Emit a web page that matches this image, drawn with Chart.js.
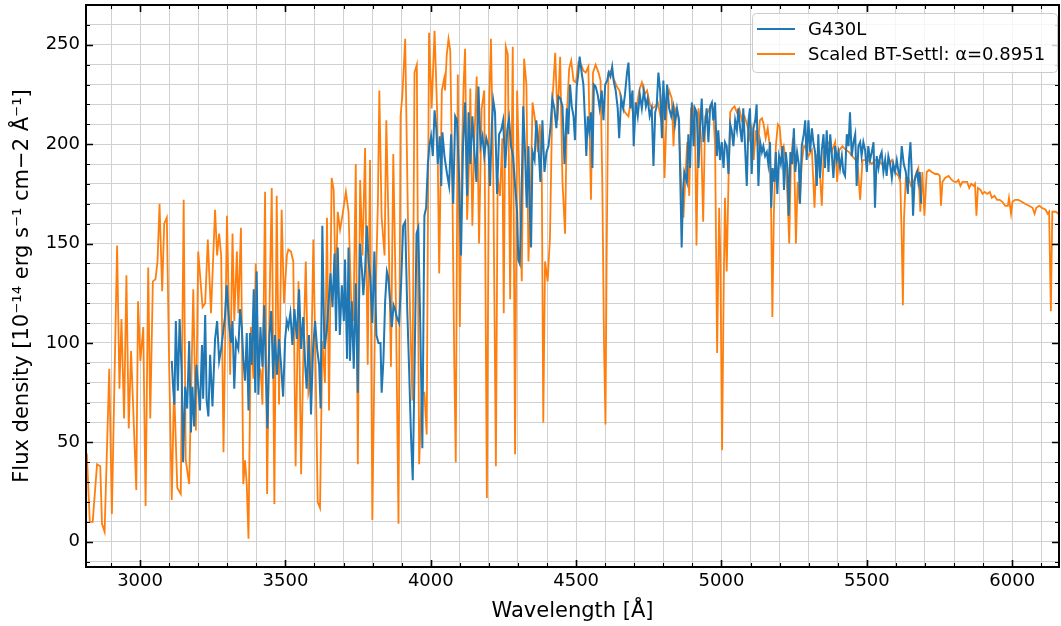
<!DOCTYPE html>
<html><head><meta charset="utf-8">
<script src="https://cdn.jsdelivr.net/npm/chart.js@4/dist/chart.umd.min.js"></script>
<style>html,body{margin:0;padding:0;background:#fff}canvas{display:block}</style>
</head><body>
<canvas id="c" width="1061" height="626" style="width:1061px;height:626px"></canvas>
<script>
const seriesNames = ['G430L', 'Scaled BT-Settl: \u03b1=0.8951'];
const xTickLabels = [3000, 3500, 4000, 4500, 5000, 5500, 6000];
const yTickLabels = [0, 50, 100, 150, 200, 250];

const g430lWave = [3109,3114,3118,3123,3130,3136,3143,3148,3155,3162,3169,3175,3180,3186,3194,3200,3206,3213,3217,
3224,3229,3235,3241,3249,3258,3265,3272,3279,3287,3292,3298,3306,3313,3318,3324,3330,3338,3344,3350,3355,3361,3367,3373,3378,3384,3391,3396,3401,3407,3414,3421,3427,3432,3438,3445,3451,3458,3464,3471,3478,3485,3492,3499,3505,3510,3517,3524,3531,3539,3547,3554,3561,3568,3573,3581,3588,3595,3602,3609,3616,3621,3627,3634,
3642,3648,3655,3662,3669,3674,3680,3687,3694,3701,3705,3712,3717,3722,3728,3735,3742,3749,3756,3763,3768,3774,3780,3786,3792,3799,3806,3813,3820,3827,3831,3837,3843,3849,3854,3860,3866,3872,3877,3883,3891,3898,3905,3912,3919,3925,3932,3938,3944,3951,3957,3964,3971,3978,3984,3990,3995,4001,4007,4013,4019,4024,4031,4036,4040,4047,
4056,4063,4070,4077,4084,4090,4097,4104,4111,4118,4125,4130,4136,4143,4150,4157,4164,4171,4178,4184,4191,4198,4204,4210,4215,4221,4228,4235,4242,4249,4256,4263,4269,4276,4283,4290,4297,4301,4306,4311,4318,4324,4330,4336,4340,4345,4350,4357,4363,4370,4377,4384,4391,4398,4405,4412,4418,4425,4432,4439,4446,4453,4460,
4468,4473,4479,4485,4491,4496,4502,4508,4512,4519,4525,4531,4535,4540,4545,4551,4556,4561,4567,4574,4581,4588,4594,4600,4607,4612,4618,4624,4629,4636,4643,4648,4655,4662,4668,4675,4680,4687,4694,4698,4705,4712,4719,4726,4733,4740,4746,4753,4760,4766,4772,4777,4783,4789,4795,4800,4806,4813,4820,4827,4834,4840,4847,4854,4859,4863,4868,4872,
4881,4886,4892,4898,4904,4909,4915,4921,4926,4932,4938,4944,4949,4955,4961,4967,4972,4978,4984,4989,4995,5001,5007,5012,5018,5024,5030,5035,5041,5047,5053,5058,5064,5070,5075,5081,5087,5093,5098,5104,5110,5116,5121,5127,5133,5139,5144,5150,5156,5161,5167,5171,5176,5182,5187,5192,5198,5204,5210,5215,5221,5227,5231,5237,5243,5249,5254,5260,5266,5270,5276,5283,
5288,5293,5299,5305,5311,5316,5322,5328,5333,5339,5345,5351,5356,5362,5368,5374,5379,5385,5391,5397,5402,5408,5414,5419,5425,5431,5437,5442,5448,5454,5460,5465,5471,5477,5482,5488,5494,5500,5505,5511,5517,5523,5528,5534,5540,5546,5551,5557,5563,5568,5574,5580,5586,5591,5597,5603,5609,5614,5620,5627,5634,5641,5645,5650,5655,5659,5664,5668,5673,5677,5682,5687];
const g430lFlux = [91,77,69,111,76,112,86,40,78,67,101,55,78,58,89,78,66,99,72,
114,71,63,94,68,102,111,91,97,107,113,129,110,100,111,77,101,97,117,108,92,81,105,66,105,89,127,75,136,74,108,88,119,89,57,104,116,82,104,84,102,89,73,102,111,108,115,99,117,102,127,97,113,89,77,104,64,97,111,97,89,67,159,97,
106,119,135,118,145,106,148,104,129,111,142,92,148,91,121,87,130,75,150,137,124,137,159,141,133,110,146,104,100,100,75,91,121,136,133,121,108,119,117,113,110,130,159,161,117,89,53,31,86,155,158,108,47,164,168,190,199,204,194,217,208,190,204,179,206,194,
185,179,205,170,214,212,185,144,199,221,174,216,190,214,196,181,229,199,204,194,203,199,179,210,222,216,175,205,207,212,188,207,213,199,194,179,166,142,140,164,219,197,168,199,170,148,196,192,212,200,181,212,186,196,199,209,223,218,208,224,223,219,190,
218,205,230,219,214,202,229,236,244,236,230,210,194,214,207,216,188,230,229,225,218,227,212,230,232,236,234,239,232,227,218,203,223,218,225,236,241,218,227,199,221,214,225,218,227,219,223,214,218,189,216,219,236,227,203,232,212,230,218,214,219,210,218,212,177,148,177,186,
181,205,188,221,199,218,216,188,208,223,201,210,218,201,219,221,212,221,194,207,192,201,188,201,199,185,210,207,199,212,207,218,208,201,218,199,179,212,218,185,208,212,220,179,201,196,199,194,196,190,201,168,188,181,196,175,194,190,199,177,196,188,164,196,190,208,186,196,190,170,199,205,
212,192,212,196,208,201,196,179,205,183,197,205,188,207,186,205,196,183,199,192,196,188,194,186,184,205,199,216,194,201,205,179,199,201,194,201,197,186,199,192,196,201,168,194,188,194,196,186,192,184,194,190,183,190,186,192,186,184,199,190,186,175,192,201,184,164,181,184,186,181,186,170];

const btWave = [2808,2817,2827,2837,2852,2863,2869,2878,2894,2903,2921,2929,2936,2945,2953,2961,2969,2987,2993,3001,3011,3019,3028,3035,3044,3053,3060,3067,3076,3083,3092,3100,3109,3117,3128,3140,3150,3157,3169,3183,3192,3200,3215,
3224,3233,3244,3258,3265,3272,3279,3287,3299,3310,3318,3324,3333,3338,3347,3355,3361,3367,3373,3381,3390,3398,3407,3415,3421,3430,3437,3445,3453,3462,3470,3478,3487,3495,3505,3510,3519,3527,3535,3545,3554,3562,3570,3579,3588,3596,3604,3611,3619,3627,
3636,3643,3650,3659,3666,3673,3680,3688,3696,3708,3717,3726,3734,3742,3749,3757,3765,3774,3783,3791,3799,3808,3818,3823,3831,3841,3847,3854,3863,3871,3880,3889,3896,3902,3912,3921,3929,3937,3944,3952,3960,3969,3978,3986,3994,4003,4013,4022,4029,4038,4046,
4049,4055,4061,4067,4074,4081,4086,4093,4100,4107,4113,4118,4125,4132,4136,4143,4150,4158,4166,4175,4184,4193,4201,4207,4215,4224,4230,4238,4246,4251,4258,4265,4273,4282,4290,4297,4304,4313,4321,4329,4336,4343,4350,4359,4368,4375,4382,4387,4393,4402,4410,4418,4428,4436,4445,4453,
4462,4468,4476,4483,4491,4499,4508,4517,4525,4533,4542,4551,4558,4567,4577,4584,4590,4596,4601,4605,4611,4620,4629,4640,4649,4659,4668,4680,4689,4698,4709,4717,4726,4735,4744,4754,4762,4772,4781,4790,4798,4804,4812,4820,4829,4835,4840,4852,4861,4869,
4875,4882,4889,4895,4902,4909,4914,4921,4930,4937,4944,4953,4962,4971,4978,4985,4992,4996,5002,5008,5012,5018,5024,5030,5038,5045,5053,5061,5070,5079,5088,5097,5104,5111,5118,5125,5132,5139,5145,5152,5159,5166,5171,5175,5180,5187,5194,5200,5207,5214,5221,5228,5233,5239,5246,5251,5256,5262,5269,5276,5283,
5288,5299,5311,5320,5327,5336,5345,5352,5361,5370,5379,5391,5398,5405,5416,5428,5439,5450,5462,5469,5477,5485,5494,5505,5517,5528,5540,5551,5563,5574,5586,5597,5609,5615,5620,5624,5628,5634,5643,5652,5661,5671,5677,5684,5691,5698,
5706,5714,5723,5735,5744,5751,5755,5760,5769,5781,5792,5801,5809,5815,5822,5829,5838,5845,5852,5859,5868,5872,5877,5882,5891,5898,5905,5914,5923,5930,5939,5948,5957,5966,5976,5985,5989,5996,6001,6010,6021,6033,6044,6058,6070,6077,6083,6093,6102,6115,6122,6127,6133,6138,6150,6159,6168];
const btFlux = [46,44,10,10,39,38,9,5,87,14,149,77,112,62,134,57,96,26,121,91,108,18,138,62,131,132,141,170,126,160,163,89,21,78,27,24,172,41,29,127,56,146,118,
120,152,115,167,144,155,144,45,164,84,155,111,146,115,158,29,41,29,1.5,108,82,140,88,86,69,176,24,117,178,19,174,69,167,120,144,147,146,141,38,131,34,97,141,75,82,152,86,20,17,101,
80,163,66,183,177,126,166,157,164,176,166,122,111,190,39,182,144,198,89,192,11,111,170,227,163,144,212,164,88,195,120,9,214,224,253,166,113,71,236,240,39,75,75,54,256,218,257,216,135,227,233,
227,245,253,247,181,88,40,235,108,195,230,248,162,191,228,159,203,234,150,218,227,22,221,253,185,38,183,174,203,115,249,245,122,249,44,227,186,131,243,230,141,170,221,212,196,210,181,60,141,131,153,221,246,212,244,181,
155,214,238,242,232,231,241,240,237,236,239,172,236,240,236,232,181,99,59,144,236,237,233,229,227,219,216,214,223,212,219,227,231,225,227,220,218,219,221,214,225,183,219,227,223,199,218,214,181,163,
181,201,174,218,219,208,149,218,203,161,214,216,219,218,199,95,168,144,46,133,173,136,181,216,218,219,216,218,212,214,210,203,208,192,207,199,212,213,210,203,208,199,163,113,164,199,210,209,196,199,192,170,150,192,203,186,150,181,170,190,199,
199,194,197,168,194,192,169,196,199,201,196,201,181,197,199,197,196,194,192,188,172,192,192,192,190,192,192,190,188,190,192,186,184,181,153,119,163,183,183,179,181,186,188,166,186,164,
186,187,186,185,185,184,169,181,183,184,182,181,181,182,179,181,181,181,178,180,179,180,164,178,177,175,176,175,176,173,174,172,172,171,169,169,173,165,171,172,172,171,170,169,168,165,168,169,168,167,165,166,116,166,166,165,164];

const toPts = (w, f) => w.map((v, i) => ({ x: v, y: f[i] }));
const FONT = 'DejaVu Sans';

const decor = {
  id: 'decor',
  afterDraw(chart) {
    const { ctx, chartArea: a, scales: { x, y } } = chart;
    ctx.save();
    ctx.strokeStyle = '#000';
    x.ticks.forEach(t => {
      const px = Math.round(x.getPixelForValue(t.value)) + 0.5;
      const major = xTickLabels.includes(Math.round(t.value));
      const L = major ? 7 : 4;
      ctx.lineWidth = major ? 1.6 : 1.1;
      ctx.beginPath();
      ctx.moveTo(px, a.bottom); ctx.lineTo(px, a.bottom - L);
      ctx.moveTo(px, a.top); ctx.lineTo(px, a.top + L);
      ctx.stroke();
    });
    y.ticks.forEach(t => {
      const py = Math.round(y.getPixelForValue(t.value)) + 0.5;
      const major = yTickLabels.includes(Math.round(t.value));
      const L = major ? 7 : 4;
      ctx.lineWidth = major ? 1.6 : 1.1;
      ctx.beginPath();
      ctx.moveTo(a.left, py); ctx.lineTo(a.left + L, py);
      ctx.moveTo(a.right, py); ctx.lineTo(a.right - L, py);
      ctx.stroke();
    });
    ctx.lineWidth = 2;
    ctx.strokeRect(a.left, a.top, a.right - a.left, a.bottom - a.top);

    // legend
    const bw = 305, bh = 59;
    const bx = a.right - 2 - bw, by = a.top + 8;
    ctx.beginPath();
    if (ctx.roundRect) ctx.roundRect(bx + 0.5, by + 0.5, bw, bh, 4); else ctx.rect(bx + 0.5, by + 0.5, bw, bh);
    ctx.fillStyle = 'rgba(255,255,255,0.8)';
    ctx.fill();
    ctx.strokeStyle = '#cccccc';
    ctx.lineWidth = 1;
    ctx.stroke();
    const colors = ['#1f77b4', '#ff7f0e'];
    ctx.font = '18px "' + FONT + '"';
    ctx.textBaseline = 'middle';
    ctx.textAlign = 'left';
    seriesNames.forEach((name, i) => {
      const ry = by + 16 + i * 25;
      ctx.strokeStyle = colors[i];
      ctx.lineWidth = 2;
      ctx.beginPath();
      ctx.moveTo(bx + 5, ry); ctx.lineTo(bx + 43, ry);
      ctx.stroke();
      ctx.fillStyle = '#000';
      ctx.fillText(name, bx + 56, ry + 1);
    });
    ctx.restore();
  }
};

new Chart(document.getElementById('c'), {
  type: 'line',
  data: {
    datasets: [
      { label: seriesNames[0], data: toPts(g430lWave, g430lFlux), borderColor: '#1f77b4', borderWidth: 2, pointRadius: 0, fill: false, tension: 0 },
      { label: seriesNames[1], data: toPts(btWave, btFlux), borderColor: '#ff7f0e', borderWidth: 1.8, pointRadius: 0, fill: false, tension: 0 }
    ]
  },
  options: {
    responsive: false,
    animation: false,
    devicePixelRatio: 1,
    layout: { padding: { top: 5, right: 2, left: 0, bottom: 0 } },
    plugins: { legend: { display: false }, tooltip: { enabled: false } },
    scales: {
      x: {
        type: 'linear', min: 2814, max: 6161,
        afterFit(s) { s.height = 59; s.paddingLeft = 0; s.paddingRight = 0; },
        ticks: {
          stepSize: 100, includeBounds: false, autoSkip: false, maxRotation: 0, padding: 4,
          color: '#000', font: { family: FONT, size: 18 },
          callback: v => xTickLabels.includes(Math.round(v)) ? String(Math.round(v)) : ''
        },
        grid: { color: '#d0d0d0', lineWidth: 1, drawTicks: false },
        border: { display: false },
        title: { display: true, text: 'Wavelength [\u00c5]', color: '#000', font: { family: FONT, size: 21 }, padding: { top: 0, bottom: 2 } }
      },
      y: {
        type: 'linear', min: -12.7, max: 270,
        afterFit(s) { s.width = 86; s.paddingTop = 0; s.paddingBottom = 0; },
        ticks: {
          stepSize: 10, includeBounds: false, autoSkip: false, padding: 6,
          color: '#000', font: { family: FONT, size: 18 },
          callback: v => yTickLabels.includes(Math.round(v)) && Math.abs(v - Math.round(v)) < 1e-6 ? String(Math.round(v)) : ''
        },
        grid: { color: '#d0d0d0', lineWidth: 1, drawTicks: false },
        border: { display: false },
        title: { display: true, text: 'Flux density [10\u207b\u00b9\u2074 erg s\u207b\u00b9 cm\u22122 \u00c5\u207b\u00b9]', color: '#000', font: { family: FONT, size: 21 }, padding: { top: 10, bottom: 0 } }
      }
    }
  },
  plugins: [decor]
});
</script>
</body></html>
